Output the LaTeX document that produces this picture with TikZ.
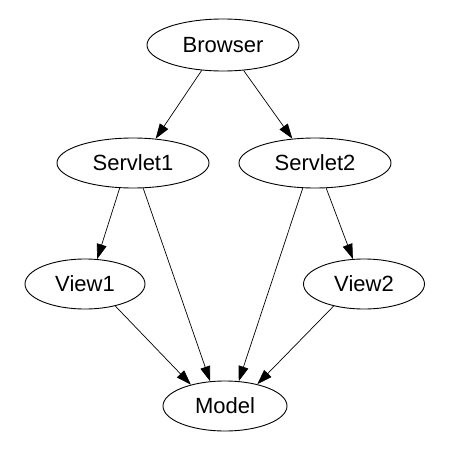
\documentclass[tikz,border=0pt]{standalone}
\usepackage{fontspec}
\setmainfont{Liberation Sans}
\usetikzlibrary{shapes.geometric,arrows.meta}
\begin{document}
\begin{tikzpicture}[x=1pt,y=-1pt,
  nd/.style={ellipse,draw,line width=0.9pt,inner sep=0pt,minimum height=50,font=\fontsize{22}{26}\selectfont},
  ed/.style={line width=0.7pt,-{Triangle[length=15pt,width=10pt]}}]
\useasboundingbox (0,0) rectangle (473,452);
\node[nd,minimum width=152,minimum height=52] (browser) at (223,45) {Browser};
\node[nd,minimum width=152] (s1) at (133,163) {Servlet1};
\node[nd,minimum width=152] (s2) at (315,163) {Servlet2};
\node[nd,minimum width=120] (v1) at (85,284) {View1};
\node[nd,minimum width=121] (v2) at (364,284) {View2};
\node[nd,minimum width=124] (model) at (225,406) {Model};
\draw[ed] (browser.-130) -- (s1.47);
\draw[ed] (browser.-51) -- (s2.133);
\draw[ed] (s1.-118) -- (v1.64);
\draw[ed] (s1.-68) -- (model.121);
\draw[ed] (s2.-116) -- (model.61);
\draw[ed] (s2.-66) -- (v2.114);
\draw[ed] (v1.-36) -- (model.148);
\draw[ed] (v2.-144) -- (model.34);
\end{tikzpicture}
\end{document}
